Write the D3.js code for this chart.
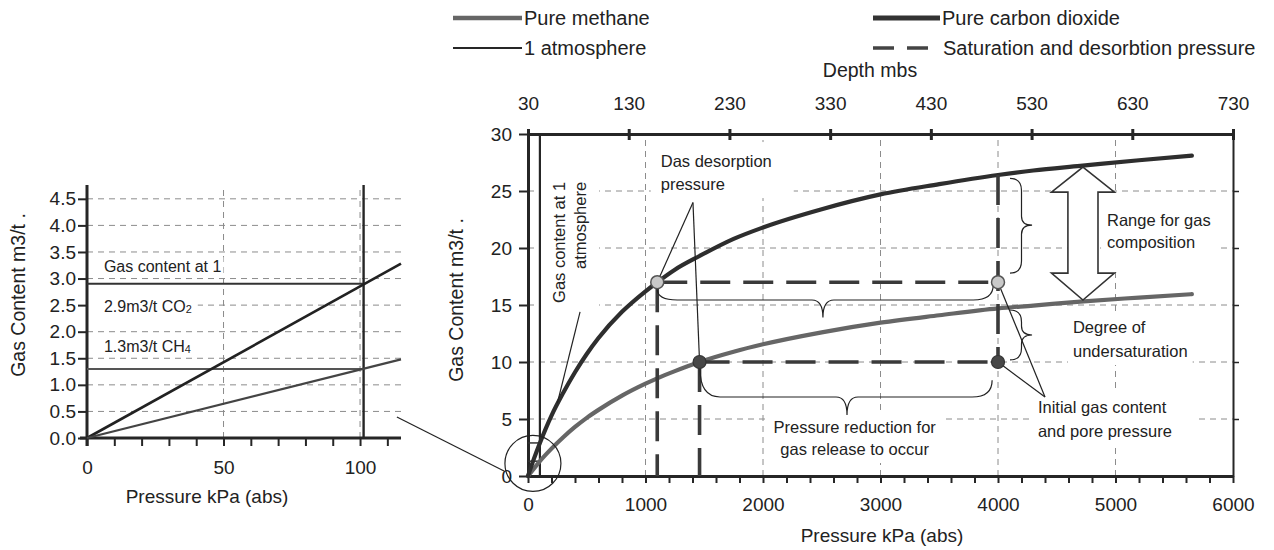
<!DOCTYPE html>
<html><head><meta charset="utf-8">
<script src="https://cdn.jsdelivr.net/npm/d3@7"></script>
<style>
body{margin:0;background:#fff}
text{font-family:"Liberation Sans",Arial,Helvetica,sans-serif;fill:#222}
</style>
</head><body>
<svg id="c" width="1274" height="550"></svg>
<script>
// ---------------- data ----------------
const pressureKPa    = [0, 50, 101.3, 200, 300, 400, 500, 600, 800, 1000, 1100, 1250, 1460, 1750, 2000, 2500, 3000, 3500, 4000, 4300, 4700, 5200, 5650];
const co2Content     = [0, 1.5, 2.9, 5.3, 7.3, 9.1, 10.7, 12.1, 14.4, 16.2, 17.0, 18.1, 19.3, 20.8, 21.8, 23.4, 24.7, 25.6, 26.4, 26.8, 27.2, 27.7, 28.1];
const methaneContent = [0, 0.65, 1.3, 2.4, 3.4, 4.3, 5.1, 5.8, 7.05, 8.1, 8.57, 9.2, 10.0, 10.9, 11.55, 12.6, 13.45, 14.1, 14.7, 14.95, 15.3, 15.65, 15.95];

const insetPressure = [0, 115];
const insetCO2      = [0, 3.28];
const insetMethane  = [0, 1.48];

const atmPressure = 101.3;
const atmCO2 = 2.9;
const atmCH4 = 1.3;

const desorptionCO2 = {p: 1100, v: 17};
const desorptionCH4 = {p: 1460, v: 10};
const initialPressure = 4000;

const mainXTicks   = [0, 1000, 2000, 3000, 4000, 5000, 6000];
const mainXMinor   = d3.range(0, 6001, 200);
const mainYTicks   = [0, 5, 10, 15, 20, 25, 30];
const depthTicks   = [30, 130, 230, 330, 430, 530, 630, 730];
const insetXTicks  = [0, 50, 100];
const insetXMinor  = d3.range(0, 111, 10);
const insetYTicks  = [0, 0.5, 1, 1.5, 2, 2.5, 3, 3.5, 4, 4.5];

// ---------------- scales ----------------
const svg = d3.select("#c");
const x  = d3.scaleLinear().domain([0, 6000]).range([528, 1233]);
const y  = d3.scaleLinear().domain([0, 30]).range([476, 134]);
const xd = d3.scaleLinear().domain([30, 730]).range([528, 1233]);
const ix = d3.scaleLinear().domain([0, 115]).range([87, 401]);
const iy = d3.scaleLinear().domain([0, 4.76]).range([438, 185]);

const gGrid  = svg.append("g");
const gBox   = svg.append("g");
const gAxis  = svg.append("g");
const gMarks = svg.append("g");
const gText  = svg.append("g");

const DARK = "#262626", GRAY = "#666", GRID = "#8c8c8c";

// ---------------- grid ----------------
function hgrid(sx, sy, vals) {
  gGrid.selectAll(null).data(vals).enter().append("line")
    .attr("x1", sx.range()[0]).attr("x2", sx.range()[1])
    .attr("y1", d => sy(d)).attr("y2", d => sy(d))
    .attr("stroke", GRID).attr("stroke-width", 1).attr("stroke-dasharray", "6 5");
}
function vgrid(sx, sy, vals) {
  gGrid.selectAll(null).data(vals).enter().append("line")
    .attr("x1", d => sx(d)).attr("x2", d => sx(d))
    .attr("y1", sy.range()[0]).attr("y2", sy.range()[1])
    .attr("stroke", GRID).attr("stroke-width", 1).attr("stroke-dasharray", "6 5");
}
hgrid(x, y, [5, 10, 15, 20, 25]);
vgrid(x, y, [1000, 2000, 3000, 4000, 5000]);
hgrid(ix, iy, insetYTicks.filter(d => d > 0));
vgrid(ix, iy, [50, 100]);

// ---------------- axes ----------------
function styleAxis(g, w, fs) {
  g.selectAll(".domain").attr("stroke", DARK).attr("stroke-width", w);
  g.selectAll(".tick line").attr("stroke", DARK).attr("stroke-width", 2);
  g.selectAll(".tick text").attr("font-size", fs).attr("fill", "#222")
    .style("font-family", '"Liberation Sans",Arial,sans-serif');
}
// main bottom
const ab = gAxis.append("g").attr("transform", "translate(0,476)")
  .call(d3.axisBottom(x).tickValues(mainXMinor).tickSize(7).tickSizeOuter(0).tickPadding(15)
    .tickFormat(d => mainXTicks.includes(d) ? d : ""));
styleAxis(ab, 3, 19);
// main left
const al = gAxis.append("g").attr("transform", "translate(528,0)")
  .call(d3.axisLeft(y).tickValues(mainYTicks).tickSize(9).tickSizeOuter(0).tickPadding(7));
styleAxis(al, 3, 19);
// main right
const ar = gAxis.append("g").attr("transform", "translate(1233,0)")
  .call(d3.axisRight(y).tickValues([5, 10, 15, 20, 25]).tickSize(6).tickSizeOuter(0).tickFormat(""));
styleAxis(ar, 2, 19);
ar.selectAll(".tick line").attr("stroke-width", 1.5);
// main top (depth)
const at = gAxis.append("g").attr("transform", "translate(0,134)")
  .call(d3.axisTop(xd).tickValues(depthTicks).tickSize(5).tickSizeOuter(0).tickPadding(19));
styleAxis(at, 3, 19);
at.selectAll(".tick line").attr("y2", -5).attr("y1", 6).attr("stroke-width", 3);

// inset bottom
const ib = gAxis.append("g").attr("transform", "translate(0,438)")
  .call(d3.axisBottom(ix).tickValues(insetXMinor).tickSize(8).tickSizeOuter(0).tickPadding(15)
    .tickFormat(d => insetXTicks.includes(d) ? d : ""));
styleAxis(ib, 3, 19);
ib.select(".domain").attr("d", `M${ix(0) - 7},0H${ix(115)}`);
// inset left
const il = gAxis.append("g").attr("transform", "translate(87,0)")
  .call(d3.axisLeft(iy).tickValues(insetYTicks).tickSize(9).tickSizeOuter(0).tickPadding(2)
    .tickFormat(d3.format(".1f")));
styleAxis(il, 3, 19);
il.select(".domain").attr("d", `M0,${iy(4.76)}V${iy(0) + 8}`);

// axis titles
gText.append("text").attr("x", 882).attr("y", 542).attr("text-anchor", "middle")
  .attr("font-size", 19).text("Pressure kPa (abs)");
gText.append("text").attr("x", 207).attr("y", 503).attr("text-anchor", "middle")
  .attr("font-size", 19).text("Pressure kPa (abs)");
gText.append("text").attr("transform", "translate(463,300) rotate(-90)").attr("text-anchor", "middle")
  .attr("font-size", 19.5).text("Gas  Content  m3/t .");
gText.append("text").attr("transform", "translate(25,295) rotate(-90)").attr("text-anchor", "middle")
  .attr("font-size", 19.5).text("Gas  Content  m3/t .");
gText.append("text").attr("x", 870).attr("y", 77).attr("text-anchor", "middle")
  .attr("font-size", 19.5).text("Depth mbs");

// ---------------- legend ----------------
const lg = gText.append("g");
lg.append("line").attr("x1", 453).attr("x2", 522).attr("y1", 18).attr("y2", 18).attr("stroke", GRAY).attr("stroke-width", 4.5);
lg.append("text").attr("x", 524).attr("y", 25).attr("font-size", 20).text("Pure methane");
lg.append("line").attr("x1", 453).attr("x2", 522).attr("y1", 48).attr("y2", 48).attr("stroke", DARK).attr("stroke-width", 2);
lg.append("text").attr("x", 524).attr("y", 55).attr("font-size", 20).text("1 atmosphere");
lg.append("line").attr("x1", 873).attr("x2", 940).attr("y1", 18).attr("y2", 18).attr("stroke", "#333").attr("stroke-width", 5);
lg.append("text").attr("x", 942).attr("y", 25).attr("font-size", 20).text("Pure carbon dioxide");
lg.append("line").attr("x1", 873).attr("x2", 928).attr("y1", 48).attr("y2", 48).attr("stroke", "#444").attr("stroke-width", 3.5).attr("stroke-dasharray", "21 13");
lg.append("text").attr("x", 943).attr("y", 55).attr("font-size", 20).text("Saturation and desorbtion pressure");

// ---------------- main marks ----------------
const co2Pts = pressureKPa.map((p, i) => [p, co2Content[i]]);
const ch4Pts = pressureKPa.map((p, i) => [p, methaneContent[i]]);
const line = d3.line().x(d => x(d[0])).y(d => y(d[1])).curve(d3.curveMonotoneX);

// 1 atmosphere line and gas content at 1 atm
gMarks.append("line").attr("x1", x(atmPressure)).attr("x2", x(atmPressure)).attr("y1", y(0)).attr("y2", y(30))
  .attr("stroke", DARK).attr("stroke-width", 2.2);
[atmCO2, atmCH4].forEach(v => gMarks.append("line").attr("x1", x(0)).attr("x2", x(atmPressure))
  .attr("y1", y(v)).attr("y2", y(v)).attr("stroke", "#333").attr("stroke-width", 1.5));

gMarks.append("path").datum(ch4Pts).attr("d", line).attr("fill", "none").attr("stroke", GRAY).attr("stroke-width", 4.2).attr("stroke-linecap", "round");
gMarks.append("path").datum(co2Pts).attr("d", line).attr("fill", "none").attr("stroke", "#2e2e2e").attr("stroke-width", 4.2).attr("stroke-linecap", "round");

const co2AtInit = co2Content[pressureKPa.indexOf(initialPressure)];
const dash = {stroke: "#3a3a3a", w: 3.6, da: "30 13"};
function dashed(x1, y1, x2, y2) {
  gMarks.append("line").attr("x1", x(x1)).attr("y1", y(y1)).attr("x2", x(x2)).attr("y2", y(y2))
    .attr("stroke", dash.stroke).attr("stroke-width", dash.w).attr("stroke-dasharray", dash.da);
}
dashed(desorptionCO2.p, desorptionCO2.v, initialPressure, desorptionCO2.v);
dashed(desorptionCH4.p, desorptionCH4.v, initialPressure, desorptionCH4.v);
dashed(desorptionCO2.p, desorptionCO2.v, desorptionCO2.p, 0);
dashed(desorptionCH4.p, desorptionCH4.v, desorptionCH4.p, 0);
dashed(initialPressure, co2AtInit, initialPressure, desorptionCH4.v);

// ---------------- annotations ----------------
const thin = {stroke: "#222", "stroke-width": 1.2, fill: "none"};
function seg(a, b) {
  const l = gMarks.append("line").attr("x1", x(a[0])).attr("y1", y(a[1])).attr("x2", x(b[0])).attr("y2", y(b[1]));
  Object.entries(thin).forEach(([k, v]) => l.attr(k, v));
}
// pointer: gas content at 1 atmosphere
seg([443, 14.4], [250, 6.4]);
// pointers: desorption pressure
const dasApex = [1404, 24.0];
seg(dasApex, [desorptionCO2.p, desorptionCO2.v]);
seg(dasApex, [desorptionCH4.p, desorptionCH4.v]);
// pointers: initial gas content
const initApex = [4400, 6.93];
seg(initApex, [initialPressure, desorptionCO2.v]);
seg(initApex, [initialPressure, desorptionCH4.v]);

// braces
function hBrace(x1, y1, x2, y2, yl, xt, yt) {
  const X1 = x(x1), Y1 = y(y1), X2 = x(x2), Y2 = y(y2), YL = y(yl), XT = x(xt), YT = y(yt), r = 20, rt = 11;
  const d = `M${X1},${Y1} Q${X1},${YL} ${X1 + r},${YL} L${XT - rt},${YL} Q${XT},${YL} ${XT},${YT} Q${XT},${YL} ${XT + rt},${YL} L${X2 - r},${YL} Q${X2},${YL} ${X2},${Y2}`;
  const p = gMarks.append("path").attr("d", d);
  Object.entries(thin).forEach(([k, v]) => p.attr(k, v));
}
function vBrace(x1, y1, y2, xl, xt, yt) {
  const X1 = x(x1), Y1 = y(y1), Y2 = y(y2), XL = x(xl), XT = x(xt), YT = y(yt), r = 12, rt = 9;
  const d = `M${X1},${Y1} Q${XL},${Y1} ${XL},${Y1 + r} L${XL},${YT - rt} Q${XL},${YT} ${XT},${YT} Q${XL},${YT} ${XL},${YT + rt} L${XL},${Y2 - r} Q${XL},${Y2} ${X1},${Y2}`;
  const p = gMarks.append("path").attr("d", d);
  Object.entries(thin).forEach(([k, v]) => p.attr(k, v));
}
hBrace(1100, 16.4, 3960, 16.8, 15.44, 2510, 13.9);
hBrace(1464, 9.4, 3950, 8.4, 6.93, 2715, 5.35);
vBrace(4102, 26.1, 17.8, 4200, 4290, 22.0);
vBrace(4102, 14.56, 10.18, 4200, 4290, 12.37);

// double arrow: range for gas composition
const arr = {cx: 4723, top: 27.1, baseTop: 24.9, baseBot: 17.8, bot: 15.44, head: 268, shaft: 128};
const arrPts = [
  [arr.cx, arr.top], [arr.cx + arr.head, arr.baseTop], [arr.cx + arr.shaft, arr.baseTop],
  [arr.cx + arr.shaft, arr.baseBot], [arr.cx + arr.head, arr.baseBot], [arr.cx, arr.bot],
  [arr.cx - arr.head, arr.baseBot], [arr.cx - arr.shaft, arr.baseBot], [arr.cx - arr.shaft, arr.baseTop],
  [arr.cx - arr.head, arr.baseTop]
];
gMarks.append("polygon").attr("points", arrPts.map(d => [x(d[0]), y(d[1])].join(",")).join(" "))
  .attr("fill", "#fff").attr("stroke", "#333").attr("stroke-width", 1.6).attr("stroke-linejoin", "miter");

// magnifier circle and connector to inset
gMarks.append("circle").attr("cx", x(42)).attr("cy", y(1.1)).attr("r", 28)
  .attr("fill", "none").attr("stroke", "#222").attr("stroke-width", 1.2);
gMarks.append("line").attr("x1", ix(113.5)).attr("y1", iy(0.395)).attr("x2", x(-204)).attr("y2", y(0.44))
  .attr("stroke", "#222").attr("stroke-width", 1.2);

// points
const co2Dots = [[desorptionCO2.p, desorptionCO2.v], [initialPressure, desorptionCO2.v]];
const ch4Dots = [[desorptionCH4.p, desorptionCH4.v], [initialPressure, desorptionCH4.v]];
gMarks.selectAll(null).data(co2Dots).enter().append("circle")
  .attr("cx", d => x(d[0])).attr("cy", d => y(d[1])).attr("r", 6.5)
  .attr("fill", "#c9c9c9").attr("stroke", "#555").attr("stroke-width", 1.5);
gMarks.selectAll(null).data(ch4Dots).enter().append("circle")
  .attr("cx", d => x(d[0])).attr("cy", d => y(d[1])).attr("r", 6.5)
  .attr("fill", "#474747").attr("stroke", "#333").attr("stroke-width", 1.2);

// ---------------- inset marks ----------------
const iline = d3.line().x(d => ix(d[0])).y(d => iy(d[1]));
gMarks.append("line").attr("x1", ix(atmPressure)).attr("x2", ix(atmPressure)).attr("y1", iy(0)).attr("y2", iy(4.76))
  .attr("stroke", DARK).attr("stroke-width", 2.4);
gMarks.append("line").attr("x1", ix(0)).attr("x2", ix(atmPressure)).attr("y1", iy(atmCO2)).attr("y2", iy(atmCO2))
  .attr("stroke", "#333").attr("stroke-width", 2);
gMarks.append("line").attr("x1", ix(0)).attr("x2", ix(atmPressure)).attr("y1", iy(atmCH4)).attr("y2", iy(atmCH4))
  .attr("stroke", "#555").attr("stroke-width", 2);
gMarks.append("path").datum(insetPressure.map((p, i) => [p, insetCO2[i]])).attr("d", iline)
  .attr("stroke", "#222").attr("stroke-width", 2.6).attr("fill", "none");
gMarks.append("path").datum(insetPressure.map((p, i) => [p, insetMethane[i]])).attr("d", iline)
  .attr("stroke", "#444").attr("stroke-width", 2.2).attr("fill", "none");

// ---------------- labels with white boxes ----------------
function label(cfg) {
  const outer = gText.append("g");
  const inner = outer.append("g").attr("transform", cfg.transform || null);
  cfg.lines.forEach(ln => {
    const t = inner.append("text").attr("x", ln.x).attr("y", ln.y)
      .attr("font-size", cfg.size).attr("text-anchor", cfg.anchor || "start");
    ln.parts.forEach(pt => {
      const s = t.append("tspan").text(pt.t);
      if (pt.sub) s.attr("font-size", cfg.size * 0.68).attr("dy", 1);
    });
  });
  const b = outer.node().getBBox();
  const p = cfg.pad;
  gBox.append("rect").attr("x", b.x - p[3]).attr("y", b.y - p[0])
    .attr("width", b.width + p[1] + p[3]).attr("height", b.height + p[0] + p[2]).attr("fill", "#fff");
}
const T = s => [{t: s}];

// Gas content at 1 atmosphere (rotated)
{
  const ax = x(315), ay = y(25.8);
  label({size: 16.5, anchor: "end", transform: `translate(${ax},${ay}) rotate(-90)`,
    lines: [{x: 0, y: 0, parts: T("Gas content at 1")}, {x: 0, y: 21, parts: T("atmosphere")}],
    pad: [8, 10, 8, 10]});
}
label({size: 16.5, lines: [{x: x(1130), y: y(27.1), parts: T("Das desorption")}, {x: x(1130), y: y(27.1) + 23, parts: T("pressure")}],
  pad: [10, 22, 5, 10]});
label({size: 16.5, anchor: "middle", lines: [{x: x(2780), y: y(3.77), parts: T("Pressure reduction for")}, {x: x(2780), y: y(3.77) + 22, parts: T("gas release to occur")}],
  pad: [5, 5, 5, 5]});
label({size: 16.5, lines: [{x: x(4928), y: y(21.93), parts: T("Range for  gas")}, {x: x(4928), y: y(21.93) + 22, parts: T("composition")}],
  pad: [18, 8, 20, 6]});
label({size: 16.5, lines: [{x: x(4638), y: y(12.54), parts: T("Degree of")}, {x: x(4638), y: y(12.54) + 24, parts: T("undersaturation")}],
  pad: [5, 5, 5, 5]});
label({size: 16.5, lines: [{x: x(4340), y: y(5.53), parts: T("Initial gas content")}, {x: x(4340), y: y(5.53) + 24, parts: T("and pore pressure")}],
  pad: [5, 27, 5, 4]});

// inset labels
label({size: 16, lines: [{x: ix(6.2), y: iy(3.12), parts: T("Gas content at 1")}], pad: [1, 2, 1, 2]});
label({size: 16, lines: [{x: ix(6.2), y: iy(2.37), parts: [{t: "2.9m3/t CO"}, {t: "2", sub: true}]}], pad: [4, 6, 4, 17]});
label({size: 16, lines: [{x: ix(6.2), y: iy(1.62), parts: [{t: "1.3m3/t CH"}, {t: "4", sub: true}]}], pad: [1, 2, 1, 2]});
</script>
</body></html>
